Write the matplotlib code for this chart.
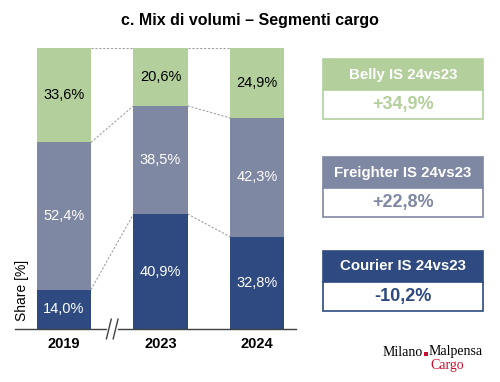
import matplotlib
matplotlib.use("Agg")
import matplotlib.pyplot as plt
from matplotlib.patches import Rectangle

plt.rcParams['font.family'] = ['Liberation Sans', 'DejaVu Sans']

years = ["2019", "2023", "2024"]
courier = [14.0, 40.9, 32.8]
freighter = [52.4, 38.5, 42.3]
belly = [33.6, 20.6, 24.9]
labels_courier = ["14,0%", "40,9%", "32,8%"]
labels_freighter = ["52,4%", "38,5%", "42,3%"]
labels_belly = ["33,6%", "20,6%", "24,9%"]

box_titles = ["Belly IS 24vs23", "Freighter IS 24vs23", "Courier IS 24vs23"]
box_values = ["+34,9%", "+22,8%", "-10,2%"]

c_green = "#B3CF9C"
c_gray = "#7F88A3"
c_navy = "#2E4A80"

W, H = 500, 382
fig = plt.figure(figsize=(5.0, 3.82), dpi=100)

# axes in pixel coordinates
ax_l, ax_r, ax_t, ax_b = 15, 296, 48, 329
ax = fig.add_axes([ax_l / W, 1 - ax_b / H, (ax_r - ax_l) / W, (ax_b - ax_t) / H])
x = [0, 1, 2]
bw = 0.56
ax.bar(x, courier, width=bw, color=c_navy)
ax.bar(x, freighter, width=bw, bottom=courier, color=c_gray)
b2 = [c + f for c, f in zip(courier, freighter)]
ax.bar(x, belly, width=bw, bottom=b2, color=c_green)
ax.set_xlim(-0.505, 2.40)
ax.set_ylim(0, 100)

for i in x:
    ax.text(i, courier[i] / 2, labels_courier[i], ha='center', va='center', color='white', fontsize=10.5)
    ax.text(i, courier[i] + freighter[i] / 2, labels_freighter[i], ha='center', va='center', color='white', fontsize=10.5)
    ax.text(i, b2[i] + belly[i] / 2, labels_belly[i], ha='center', va='center', color='black', fontsize=10.5)

# connector lines
for i in range(2):
    for ya, yb in [(courier[i], courier[i + 1]), (b2[i], b2[i + 1]), (100, 100)]:
        ax.plot([i + bw / 2, i + 1 - bw / 2], [ya, yb], color='#A0A0A0', lw=0.8, ls=(0, (2, 1.5)), zorder=0)

for s in ['top', 'right', 'left']:
    ax.spines[s].set_visible(False)
ax.spines['bottom'].set_color('#404040')
ax.spines['bottom'].set_linewidth(1.0)
ax.set_yticks([])
ax.set_xticks(x)
ax.set_xticklabels(years, fontsize=10.5, fontweight='bold')
ax.tick_params(axis='x', length=0, pad=6)

# axis break marks
ax.plot([0.46, 0.54], [0, 0], color='white', lw=2, clip_on=False, zorder=3)
for dx in [-0.035, 0.035]:
    ax.plot([0.5 + dx - 0.025, 0.5 + dx + 0.025], [-3.5, 3.5], color='#404040', lw=1.0, clip_on=False, zorder=4)

fig.text(22 / W, 1 - 290 / H, "Share [%]", rotation=90, ha='center', va='center', fontsize=10)

fig.text(250 / W, 1 - 20 / H, "c. Mix di volumi \u2013 Segmenti cargo", ha='center', va='center',
         fontsize=11.5, fontweight='bold')

# right boxes
box_colors = [c_green, c_gray, c_navy]
val_colors = [c_green, c_gray, c_navy]
tops = [59, 157, 251]
bx0, bx1 = 323, 483
hh, vh = 31, 29
for k in range(3):
    t = tops[k]
    fig.patches.append(Rectangle((bx0 / W, 1 - (t + hh) / H), (bx1 - bx0) / W, hh / H,
                                 transform=fig.transFigure, facecolor=box_colors[k], edgecolor=box_colors[k], lw=1.2))
    fig.patches.append(Rectangle((bx0 / W, 1 - (t + hh + vh) / H), (bx1 - bx0) / W, vh / H,
                                 transform=fig.transFigure, facecolor='white', edgecolor=box_colors[k], lw=1.2))
    fig.text((bx0 + bx1) / 2 / W, 1 - (t + hh / 2) / H, box_titles[k], ha='center', va='center',
             color='white', fontsize=10.8, fontweight='bold')
    fig.text((bx0 + bx1) / 2 / W, 1 - (t + hh + vh / 2) / H, box_values[k], ha='center', va='center',
             color=val_colors[k], fontsize=13, fontweight='bold')

# logo
fig.text(423 / W, 1 - 352 / H, "Milano", ha='right', va='center', fontsize=10,
         family='Liberation Serif', color='black')
fig.patches.append(Rectangle((424 / W, 1 - 356 / H), 4 / W, 4 / H, transform=fig.transFigure,
                             facecolor='#C8102E', edgecolor='none'))
fig.text(429 / W, 1 - 352 / H, "Malpensa", ha='left', va='center', fontsize=10,
         family='Liberation Serif', color='black')
fig.text(430 / W, 1 - 366 / H, "Cargo", ha='left', va='center', fontsize=10,
         family='Liberation Serif', color='#C8102E')

fig.savefig("out.png", dpi=100)
